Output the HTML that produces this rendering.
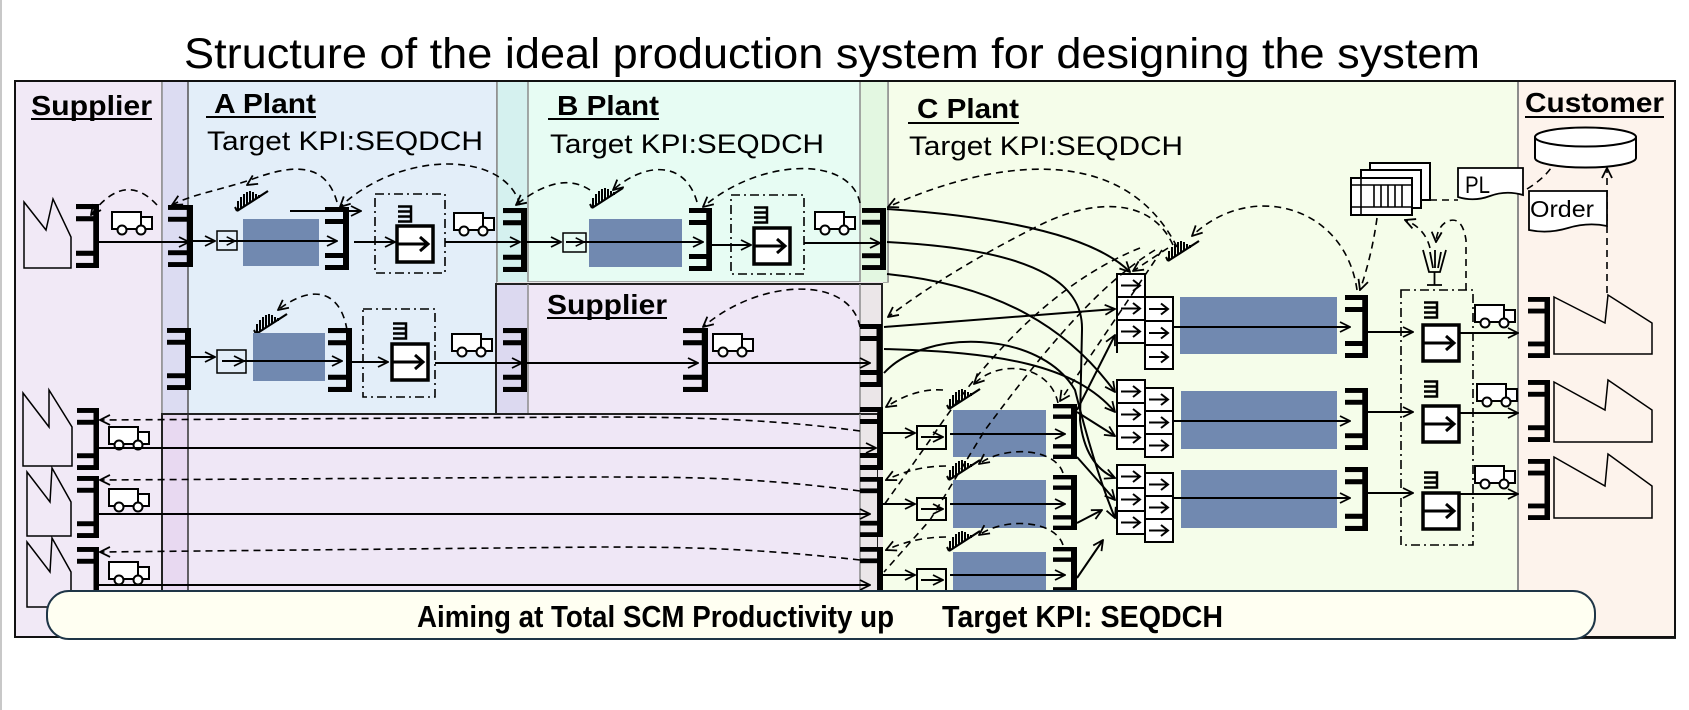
<!DOCTYPE html>
<html><head><meta charset="utf-8">
<style>
html,body{margin:0;padding:0;background:#fff;}
svg{display:block;}
text{font-family:"Liberation Sans",Arial,sans-serif;fill:#000;}
.d{fill:none;stroke:#000;stroke-width:1.6;stroke-dasharray:7,5;}
.s{fill:none;stroke:#000;stroke-width:2;}
.dd{fill:none;stroke:#000;stroke-width:1.6;stroke-dasharray:9,4,2,4;}
.bl{fill:#7189b0;}
</style></head><body>
<svg width="1689" height="710" viewBox="0 0 1689 710" xmlns="http://www.w3.org/2000/svg">
<defs>
<marker id="ar" viewBox="0 0 12 12" refX="11" refY="6" markerWidth="12" markerHeight="12" markerUnits="userSpaceOnUse" orient="auto"><path d="M1,1 L11,6 L1,11" fill="none" stroke="#000" stroke-width="1.8"/></marker>
<marker id="sa" viewBox="0 0 12 12" refX="11" refY="6" markerWidth="10" markerHeight="10" markerUnits="userSpaceOnUse" orient="auto"><path d="M1,1 L11,6 L1,11" fill="none" stroke="#000" stroke-width="1.8"/></marker>
<symbol id="st" viewBox="0 0 24 63" preserveAspectRatio="none"><rect x="18" y="0" width="6" height="63"/><rect x="0" y="0" width="24" height="5"/><rect x="0" y="12" width="24" height="5"/><rect x="0" y="46" width="24" height="5"/><rect x="0" y="58" width="24" height="5"/></symbol>
<g id="tr"><rect x="1" y="1" width="29" height="17" fill="#fff" stroke="#000" stroke-width="2"/><rect x="30" y="6" width="11" height="12" fill="#fff" stroke="#000" stroke-width="2"/><circle cx="11" cy="19" r="4.5" fill="#fff" stroke="#000" stroke-width="2"/><circle cx="30" cy="19" r="4.5" fill="#fff" stroke="#000" stroke-width="2"/></g>
<g id="wk"><path d="M3,28 L34,8" stroke="#000" stroke-width="2.2" fill="none"/><path d="M4,27 V18 M7,26 V14 M10,24 V11 M13,22 V9 M16,20 V8 M19,18 V9 M22,16 V11 M25,15 V12 M3,28 L1,24" stroke="#000" stroke-width="2" fill="none"/></g>
<g id="ei"><path d="M0,1.5 H13 V16.5 H0 M0,6.5 H13 M0,11.5 H13" stroke="#000" stroke-width="2.5" fill="none"/></g>
<g id="ib"><rect x="0" y="0" width="36" height="36" fill="#fff" stroke="#000" stroke-width="3.5"/><path d="M0,18 H31 M23,11 L31,18 L23,25" stroke="#000" stroke-width="3" fill="none"/></g>
<g id="kb"><rect x="0" y="0" width="28" height="23" fill="#fff" stroke="#000" stroke-width="2"/><path d="M4,11.5 H23 M16,6 L23,11.5 L16,17" stroke="#000" stroke-width="2" fill="none"/></g>
<g id="kb2"><rect x="0" y="0" width="28" height="24" fill="#fff" stroke="#000" stroke-width="2"/><path d="M4,12 H23 M16,6.5 L23,12 L16,17.5" stroke="#000" stroke-width="2" fill="none"/></g>
</defs>

<rect x="0" y="0" width="1689" height="710" fill="#fff"/>
<rect x="0" y="0" width="2" height="710" fill="#c8c8c8"/>

<!-- title -->
<text x="184" y="68" font-size="43" textLength="1296" lengthAdjust="spacingAndGlyphs">Structure of the ideal production system for designing the system</text>

<!-- panels -->
<rect x="15" y="81" width="147" height="556" fill="#f1e9f6"/>
<rect x="860" y="81" width="658" height="556" fill="#f5fdea" stroke="#8c8c8c" stroke-width="1.5"/>
<rect x="1518" y="81" width="157" height="557" fill="#fdf3ec" stroke="#222" stroke-width="2"/>
<line x1="1518" y1="81" x2="1518" y2="638" stroke="#8c8c8c" stroke-width="2"/>
<rect x="162" y="81" width="335" height="333" fill="#e3eef9" stroke="#8c8c8c" stroke-width="1.5"/>
<rect x="162" y="81" width="26" height="333" fill="#dcdcf2"/>
<line x1="162" y1="81" x2="162" y2="414" stroke="#8c8c8c" stroke-width="1.5"/>
<line x1="188" y1="81" x2="188" y2="414" stroke="#555" stroke-width="1.5"/>
<rect x="497" y="81" width="391" height="201" fill="#e7fcf3" stroke="#8c8c8c" stroke-width="1.5"/>
<rect x="497" y="81" width="31" height="201" fill="#d5f1ef"/>
<rect x="860" y="81" width="28" height="201" fill="#e3f7e1"/>
<line x1="528" y1="81" x2="528" y2="282" stroke="#8c8c8c" stroke-width="1.5"/>
<line x1="860" y1="81" x2="860" y2="282" stroke="#8c8c8c" stroke-width="1.5"/>
<line x1="888" y1="81" x2="888" y2="282" stroke="#8c8c8c" stroke-width="1.5"/>
<line x1="497" y1="81" x2="497" y2="282" stroke="#8c8c8c" stroke-width="1.5"/>
<rect x="497" y="282" width="386" height="309" fill="#ebe6e8"/>
<rect x="496" y="284" width="386" height="133" fill="#efe7f6" stroke="#222" stroke-width="2"/>
<rect x="497" y="285" width="31" height="131" fill="#dcd9f0"/>
<rect x="860" y="285" width="21" height="131" fill="#ebe6e8"/>
<line x1="528" y1="284" x2="528" y2="417" stroke="#8c8c8c" stroke-width="1.5"/>
<line x1="860" y1="284" x2="860" y2="417" stroke="#8c8c8c" stroke-width="1.5"/>
<rect x="162" y="414" width="715" height="177" fill="#efe7f6" stroke="#222" stroke-width="2"/>
<rect x="163" y="415" width="25" height="176" fill="#e8d9f1"/>
<rect x="860" y="415" width="17" height="176" fill="#ebe6e8"/>
<line x1="188" y1="414" x2="188" y2="591" stroke="#333" stroke-width="1.5"/>
<line x1="860" y1="414" x2="860" y2="591" stroke="#8c8c8c" stroke-width="1.5"/>
<rect x="15" y="81" width="1660" height="556" fill="none" stroke="#111" stroke-width="2"/>

<!-- labels -->
<text x="31" y="115" font-size="28" font-weight="bold" textLength="121" lengthAdjust="spacingAndGlyphs">Supplier</text>
<line x1="31" y1="119" x2="152" y2="119" stroke="#000" stroke-width="2"/>
<text x="214" y="113" font-size="28" font-weight="bold" textLength="102" lengthAdjust="spacingAndGlyphs">A Plant</text>
<line x1="206" y1="117" x2="316" y2="117" stroke="#000" stroke-width="2"/>
<text x="207" y="150" font-size="27" textLength="276" lengthAdjust="spacingAndGlyphs">Target KPI:SEQDCH</text>
<text x="557" y="115" font-size="28" font-weight="bold" textLength="102" lengthAdjust="spacingAndGlyphs">B Plant</text>
<line x1="548" y1="119" x2="659" y2="119" stroke="#000" stroke-width="2"/>
<text x="550" y="153" font-size="27" textLength="274" lengthAdjust="spacingAndGlyphs">Target KPI:SEQDCH</text>
<text x="917" y="118" font-size="28" font-weight="bold" textLength="102" lengthAdjust="spacingAndGlyphs">C Plant</text>
<line x1="908" y1="123" x2="1019" y2="123" stroke="#000" stroke-width="2"/>
<text x="909" y="155" font-size="27" textLength="274" lengthAdjust="spacingAndGlyphs">Target KPI:SEQDCH</text>
<text x="547" y="314" font-size="28" font-weight="bold" textLength="120" lengthAdjust="spacingAndGlyphs">Supplier</text>
<line x1="547" y1="318" x2="667" y2="318" stroke="#000" stroke-width="2"/>
<text x="1525" y="112" font-size="28" font-weight="bold" textLength="139" lengthAdjust="spacingAndGlyphs">Customer</text>
<line x1="1525" y1="117" x2="1664" y2="117" stroke="#000" stroke-width="2"/>

<!-- ===== Top row ===== -->
<polygon points="24,202 46,230 53,199 71,237 71,268 24,268" fill="none" stroke="#000" stroke-width="1.5"/>
<use href="#st" x="76" y="204" width="23" height="64"/>
<use href="#tr" x="111" y="211"/>
<path class="s" d="M99,242 H189" marker-end="url(#ar)"/>
<use href="#st" x="168" y="205" width="25" height="62"/>
<path class="s" d="M193,241 H215" marker-end="url(#ar)"/>
<rect x="243" y="219" width="76" height="47" class="bl"/>
<rect x="217" y="231" width="20" height="19" fill="none" stroke="#000" stroke-width="1.5"/>
<path d="M225,241 L235,241" stroke="none" marker-end="url(#sa)"/>
<path class="s" d="M219,241 H337" marker-end="url(#ar)"/>
<use href="#st" x="325" y="207" width="24" height="63"/>
<path class="s" d="M290,211 H361" marker-end="url(#ar)"/>
<path class="s" d="M354,242 H395" marker-end="url(#ar)"/>
<rect x="375" y="194" width="70" height="79" class="dd"/>
<use href="#ei" x="398" y="205"/>
<use href="#ib" x="397" y="226"/>
<use href="#tr" x="453" y="212"/>
<path class="s" d="M445,242 H520" marker-end="url(#ar)"/>
<use href="#st" x="503" y="208" width="24" height="64"/>
<path class="s" d="M527,242 H561" marker-end="url(#ar)"/>
<rect x="589" y="219" width="93" height="48" class="bl"/>
<rect x="563" y="233" width="23" height="19" fill="none" stroke="#000" stroke-width="1.5"/>
<path d="M573,242 L584,242" stroke="none" marker-end="url(#sa)"/>
<path class="s" d="M566,242 H703" marker-end="url(#ar)"/>
<use href="#st" x="689" y="208" width="23" height="63"/>
<path class="s" d="M712,245 H751" marker-end="url(#ar)"/>
<rect x="731" y="195" width="73" height="79" class="dd"/>
<use href="#ei" x="754" y="206"/>
<use href="#ib" x="754" y="228"/>
<use href="#tr" x="814" y="211"/>
<path class="s" d="M804,243 H880" marker-end="url(#ar)"/>
<use href="#st" x="862" y="208" width="24" height="62"/>

<!-- worker icons -->
<use href="#wk" x="234" y="183"/>
<use href="#wk" x="589" y="180"/>
<use href="#wk" x="1165" y="233"/>
<use href="#wk" x="253" y="306"/>
<use href="#wk" x="946" y="381"/>
<use href="#wk" x="946" y="452"/>
<use href="#wk" x="946" y="523"/>

<!-- top dashed arcs -->
<path class="d" d="M157,205 Q125,170 91,215" marker-end="url(#ar)"/>
<path class="d" d="M337,202 C325,160 290,165 250,180 C220,190 190,195 172,205" marker-end="url(#ar)"/>
<path d="M258,178 L247,185" stroke="none" marker-end="url(#ar)"/>
<path class="d" d="M520,205 C505,150 400,150 340,207" marker-end="url(#ar)"/>
<path class="d" d="M697,202 C685,160 645,162 613,190" marker-end="url(#ar)"/>
<path class="d" d="M590,190 Q560,170 516,205" marker-end="url(#ar)"/>
<path class="d" d="M860,203 C850,155 760,158 703,207" marker-end="url(#ar)"/>

<!-- ===== A row 2 / middle supplier ===== -->
<use href="#st" x="167" y="328" width="24" height="62"/>
<path class="s" d="M191,357 H215" marker-end="url(#ar)"/>
<rect x="253" y="333" width="72" height="48" class="bl"/>
<rect x="217" y="350" width="29" height="23" fill="none" stroke="#000" stroke-width="1.5"/>
<path d="M232,361 L244,361" stroke="none" marker-end="url(#ar)"/>
<path class="s" d="M222,361 H342" marker-end="url(#ar)"/>
<use href="#st" x="328" y="328" width="24" height="64"/>
<path class="s" d="M352,362 H388" marker-end="url(#ar)"/>
<rect x="363" y="309" width="72" height="88" class="dd"/>
<use href="#ei" x="393" y="322"/>
<use href="#ib" x="392" y="344"/>
<use href="#tr" x="451" y="333"/>
<path class="s" d="M435,363 H522" marker-end="url(#ar)"/>
<use href="#st" x="503" y="328" width="24" height="64"/>
<path class="s" d="M527,363 H698" marker-end="url(#ar)"/>
<use href="#st" x="683" y="328" width="25" height="64"/>
<use href="#tr" x="712" y="333"/>
<path class="s" d="M708,363 H870" marker-end="url(#ar)"/>
<use href="#st" x="860" y="324" width="22" height="63"/>
<path class="d" d="M347,330 C340,288 310,285 278,310" marker-end="url(#ar)"/>
<path class="d" d="M860,327 C850,275 760,278 703,327" marker-end="url(#ar)"/>

<!-- ===== Lower supplier rows ===== -->
<polygon points="23,393 49,427 49,390 72,427 72,466 23,466" fill="none" stroke="#000" stroke-width="1.5"/>
<polygon points="27,472 50,502 52,468 71,502 71,536 27,536" fill="none" stroke="#000" stroke-width="1.5"/>
<polygon points="27,542 50,572 52,538 71,572 71,607 27,607" fill="none" stroke="#000" stroke-width="1.5"/>
<use href="#st" x="77" y="408" width="22" height="62"/>
<use href="#st" x="77" y="476" width="22" height="62"/>
<use href="#st" x="77" y="547" width="22" height="62"/>
<use href="#tr" x="108" y="426"/>
<use href="#tr" x="108" y="488"/>
<use href="#tr" x="108" y="561"/>
<path class="d" d="M860,431 C780,420 700,417 600,417 L100,420" marker-end="url(#ar)"/>
<path class="d" d="M860,491 C760,478 700,477 600,477 L100,480" marker-end="url(#ar)"/>
<path class="d" d="M860,560 C760,549 700,547 600,547 L100,552" marker-end="url(#ar)"/>
<path class="s" d="M99,448 H876" marker-end="url(#ar)"/>
<path class="s" d="M99,514 H870" marker-end="url(#ar)"/>
<path class="s" d="M99,585 H870" marker-end="url(#ar)"/>
<use href="#st" x="860" y="407" width="23" height="63"/>
<use href="#st" x="860" y="477" width="23" height="60"/>
<use href="#st" x="860" y="547" width="23" height="60"/>

<!-- ===== C plant lower rows ===== -->
<rect x="953" y="410" width="93" height="47" class="bl"/>
<rect x="953" y="480" width="93" height="48" class="bl"/>
<rect x="953" y="552" width="93" height="40" class="bl"/>
<path class="s" d="M883,433 H915" marker-end="url(#ar)"/>
<path class="s" d="M883,504 H915" marker-end="url(#ar)"/>
<path class="s" d="M883,575 H915" marker-end="url(#ar)"/>
<rect x="917" y="426" width="29" height="23" fill="none" stroke="#000" stroke-width="2"/>
<rect x="917" y="498" width="29" height="22" fill="none" stroke="#000" stroke-width="2"/>
<rect x="917" y="569" width="29" height="22" fill="none" stroke="#000" stroke-width="2"/>
<path class="s" d="M921,437 H943" marker-end="url(#ar)"/>
<path class="s" d="M921,509 H943" marker-end="url(#ar)"/>
<path class="s" d="M921,580 H943" marker-end="url(#ar)"/>
<path class="s" d="M950,434 H1065" marker-end="url(#ar)"/>
<path class="s" d="M950,504 H1065" marker-end="url(#ar)"/>
<path class="s" d="M950,575 H1065" marker-end="url(#ar)"/>
<use href="#st" x="1053" y="404" width="24" height="55"/>
<use href="#st" x="1053" y="475" width="24" height="55"/>
<use href="#st" x="1053" y="547" width="24" height="55"/>
<path class="d" d="M1058,403 C1050,365 1000,358 974,384" marker-end="url(#ar)"/>
<path class="d" d="M943,390 Q915,388 886,407" marker-end="url(#ar)"/>
<path class="d" d="M1063,473 C1055,448 1005,445 979,464" marker-end="url(#ar)"/>
<path class="d" d="M946,466 Q915,466 886,480" marker-end="url(#ar)"/>
<path class="d" d="M1063,545 C1055,520 1005,517 979,535" marker-end="url(#ar)"/>
<path class="d" d="M946,537 Q915,537 886,550" marker-end="url(#ar)"/>

<!-- ===== C plant kanban groups ===== -->
<rect x="1180" y="297" width="157" height="57" class="bl"/>
<rect x="1181" y="391" width="156" height="58" class="bl"/>
<rect x="1181" y="470" width="156" height="58" class="bl"/>
<use href="#kb" x="1117" y="274"/><use href="#kb" x="1117" y="297"/><use href="#kb" x="1117" y="320"/>
<use href="#kb2" x="1145" y="297"/><use href="#kb2" x="1145" y="321"/><use href="#kb2" x="1145" y="345"/>
<use href="#kb" x="1117" y="380"/><use href="#kb" x="1117" y="403"/><use href="#kb" x="1117" y="426"/>
<use href="#kb" x="1145" y="388"/><use href="#kb" x="1145" y="411"/><use href="#kb" x="1145" y="434"/>
<use href="#kb" x="1117" y="465"/><use href="#kb" x="1117" y="488"/><use href="#kb" x="1117" y="511"/>
<use href="#kb" x="1145" y="473"/><use href="#kb" x="1145" y="496"/><use href="#kb" x="1145" y="519"/>
<line x1="1117" y1="343" x2="1117" y2="353" stroke="#000" stroke-width="2"/>
<path class="s" d="M1173,327 H1350" marker-end="url(#ar)"/>
<path class="s" d="M1173,421 H1350" marker-end="url(#ar)"/>
<path class="s" d="M1173,498 H1350" marker-end="url(#ar)"/>
<use href="#st" x="1345" y="295" width="23" height="63"/>
<use href="#st" x="1345" y="388" width="23" height="62"/>
<use href="#st" x="1345" y="467" width="23" height="64"/>

<!-- solid C feed lines -->
<path class="s" d="M887,209 Q1080,222 1130,272" marker-end="url(#ar)"/>
<path class="s" d="M887,242 C1050,250 1083,290 1082,330 L1080,420 Q1085,465 1115,478" marker-end="url(#ar)"/>
<path class="s" d="M887,274 C1000,285 1070,330 1115,392" marker-end="url(#ar)"/>
<path class="s" d="M884,327 L1115,309" marker-end="url(#ar)"/>
<path class="s" d="M884,349 C1000,352 1075,365 1115,412" marker-end="url(#ar)"/>
<path class="s" d="M884,373 C925,328 1040,330 1075,390 Q1095,470 1115,518" marker-end="url(#ar)"/>
<path class="s" d="M1077,410 L1115,335" marker-end="url(#ar)"/>
<path class="s" d="M1077,412 L1115,436" marker-end="url(#ar)"/>
<path class="s" d="M1077,457 L1115,500" marker-end="url(#ar)"/>
<path class="s" d="M1077,523 L1102,510" marker-end="url(#ar)"/>
<path class="s" d="M1077,578 L1103,540" marker-end="url(#ar)"/>

<!-- C dashed arcs -->
<path class="d" d="M1177,247 C1120,135 980,165 888,207" marker-end="url(#ar)"/>
<path class="d" d="M1173,245 C1150,195 1090,200 1040,225 Q950,270 888,317" marker-end="url(#ar)"/>
<path class="d" d="M1357,290 C1345,205 1250,180 1192,236" marker-end="url(#ar)"/>
<path class="d" d="M1140,248 C1060,280 990,350 930,440 L884,505"/>
<path class="d" d="M1155,250 C1090,290 1030,370 985,430 L930,520 L884,572"/>
<path class="d" d="M1162,250 L1060,401" marker-end="url(#ar)"/>
<path class="d" d="M1168,248 L1133,271" marker-end="url(#ar)"/>
<path class="d" d="M1377,218 Q1372,255 1360,290" marker-end="url(#ar)"/>

<!-- kanban stack -->
<rect x="1370" y="163" width="60" height="37" fill="#fff" stroke="#000" stroke-width="2"/>
<rect x="1361" y="170" width="60" height="38" fill="#fff" stroke="#000" stroke-width="2"/>
<rect x="1351" y="178" width="61" height="37" fill="#fff" stroke="#000" stroke-width="2"/>
<path d="M1351,185 H1412 M1351,207 H1412 M1361,178 V215 M1374,185 V207 M1381,185 V207 M1388,185 V207 M1395,185 V207 M1402,185 V207" stroke="#000" stroke-width="1.6" fill="none"/>
<path class="d" d="M1430,200 L1458,200"/>

<!-- sensor -->
<path d="M1423,250 L1429,272 L1440,272 L1446,250 M1430,252 L1433,268 M1435,250 V268 M1441,252 L1438,268 M1434.5,272 V285 M1427,285 H1442" stroke="#000" stroke-width="1.8" fill="none"/>
<path class="d" d="M1466,290 L1466,240 Q1462,214 1446,222 Q1437,228 1436,242" marker-end="url(#ar)"/>
<path class="d" d="M1430,248 Q1425,228 1405,220" marker-end="url(#ar)"/>

<!-- shipping area -->
<path class="s" d="M1368,332 H1413" marker-end="url(#ar)"/>
<path class="s" d="M1368,412 H1413" marker-end="url(#ar)"/>
<path class="s" d="M1368,493 H1413" marker-end="url(#ar)"/>
<rect x="1401" y="290" width="72" height="255" class="dd"/>
<use href="#ei" x="1424" y="301"/>
<use href="#ei" x="1424" y="380"/>
<use href="#ei" x="1424" y="471"/>
<use href="#ib" x="1423" y="325"/>
<use href="#ib" x="1423" y="406"/>
<use href="#ib" x="1423" y="493"/>
<use href="#tr" x="1474" y="304"/>
<use href="#tr" x="1476" y="383"/>
<use href="#tr" x="1474" y="465"/>
<path class="s" d="M1459,333 H1518" marker-end="url(#ar)"/>
<path class="s" d="M1459,413 H1518" marker-end="url(#ar)"/>
<path class="s" d="M1459,494 H1518" marker-end="url(#ar)"/>

<!-- customer -->
<use href="#st" x="1528" y="297" width="22" height="61"/>
<use href="#st" x="1528" y="380" width="22" height="62"/>
<use href="#st" x="1528" y="459" width="22" height="61"/>
<polygon points="1554,297 1605,323 1608,295 1652,323 1652,354 1554,354" fill="none" stroke="#000" stroke-width="1.5"/>
<polygon points="1554,382 1605,410 1608,380 1652,410 1652,442 1554,442" fill="none" stroke="#000" stroke-width="1.5"/>
<polygon points="1554,457 1605,486 1608,454 1652,486 1652,518 1554,518" fill="none" stroke="#000" stroke-width="1.5"/>
<path d="M1535,137 L1535,158 A50.5,9.5 0 0 0 1636,158 L1636,137" fill="#fff" stroke="#000" stroke-width="2"/>
<ellipse cx="1585.5" cy="137" rx="50.5" ry="9.5" fill="#fff" stroke="#000" stroke-width="2"/>
<path class="d" d="M1607,293 L1607,168" marker-end="url(#ar)"/>
<path class="d" d="M1527,189 Q1545,178 1553,165"/>
<path d="M1458,168 L1523,168 L1523,195 Q1506,190 1490,196 Q1474,202 1458,197 Z" fill="#fff" stroke="#000" stroke-width="1.8"/>
<text x="1465" y="193" font-size="24" textLength="25" lengthAdjust="spacingAndGlyphs">PL</text>
<path d="M1529,191 L1607,191 L1607,226 Q1588,222 1568,228 Q1548,234 1529,230 Z" fill="#fff" stroke="#000" stroke-width="1.8"/>
<text x="1530" y="217" font-size="23" textLength="64" lengthAdjust="spacingAndGlyphs">Order</text>

<!-- banner -->
<rect x="47" y="591" width="1548" height="48" rx="22" ry="22" fill="#fffff2" stroke="#1e3547" stroke-width="2"/>
<text x="417" y="627" font-size="31" font-weight="bold" textLength="477" lengthAdjust="spacingAndGlyphs">Aiming at Total SCM Productivity up</text>
<text x="942" y="627" font-size="31" font-weight="bold" textLength="281" lengthAdjust="spacingAndGlyphs">Target KPI: SEQDCH</text>
</svg>
</body></html>
